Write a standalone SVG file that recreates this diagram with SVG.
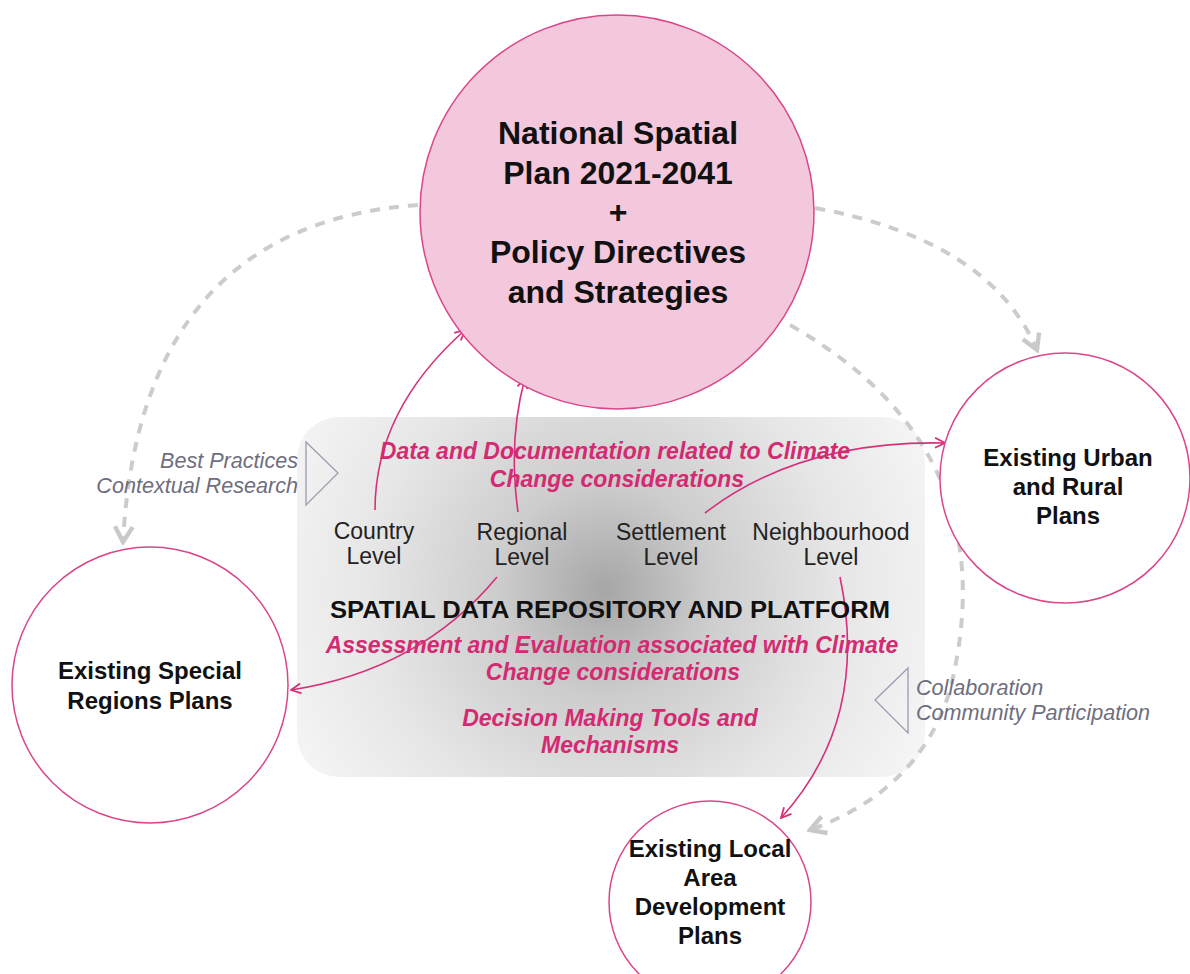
<svg xmlns="http://www.w3.org/2000/svg" width="1190" height="974" viewBox="0 0 1190 974">
<defs>
<radialGradient id="bg" gradientUnits="userSpaceOnUse" cx="605" cy="590" r="360">
<stop offset="0" stop-color="#a6a6a6"/>
<stop offset="0.3" stop-color="#cdcdcd"/>
<stop offset="0.65" stop-color="#e6e6e6"/>
<stop offset="1" stop-color="#f6f6f6"/>
</radialGradient>
<marker id="pa" viewBox="0 0 12 12" refX="11" refY="6" markerWidth="12" markerHeight="12" markerUnits="userSpaceOnUse" orient="auto">
<path d="M1 1 L11 6 L1 11" fill="none" stroke="#d6307a" stroke-width="1.8"/>
</marker>
<marker id="ga" viewBox="0 0 20 20" refX="17" refY="10" markerWidth="22" markerHeight="22" markerUnits="userSpaceOnUse" orient="auto">
<path d="M3 2 L17 10 L3 18" fill="none" stroke="#c9c9c9" stroke-width="4"/>
</marker>
</defs>
<style>
.pk{fill:none;stroke:#d6307a;stroke-width:1.6}
.gd{fill:none;stroke:#cccccc;stroke-width:4;stroke-dasharray:10 9}
.nc{fill:#ffffff;stroke:#d9468a;stroke-width:1.5}
.bt{font-family:"Liberation Sans",Arial,sans-serif;font-weight:bold;fill:#111;text-anchor:middle}
.lv{font-family:"Liberation Sans",Arial,sans-serif;font-size:23px;fill:#222;text-anchor:middle}
.pt{font-family:"Liberation Sans",Arial,sans-serif;font-size:23px;font-weight:bold;font-style:italic;fill:#d42a72;text-anchor:middle}
.it{font-family:"Liberation Sans",Arial,sans-serif;font-size:21.6px;font-style:italic;fill:#6e6e7e}
.tri{fill:none;stroke:#9c9cb0;stroke-width:1.3}
</style>
<g id="platform">
<rect x="297" y="417" width="628" height="360" rx="42" fill="url(#bg)"/>
</g>
<g id="connectors">
<path class="gd" d="M418 205 Q140 225 123 542" marker-end="url(#ga)"/>
<path class="gd" d="M815 208 Q990 240 1037 350" marker-end="url(#ga)"/>
<path class="gd" d="M790 325 Q1010 450 950 690 Q920 790 810 830" marker-end="url(#ga)"/>
<path class="pk" d="M375 510 Q375 410 465 330" marker-end="url(#pa)"/>
<path class="pk" d="M518 512 Q508 440 525 378" marker-end="url(#pa)"/>
<path class="pk" d="M705 513 Q800 440 945 443" marker-end="url(#pa)"/>
<path class="pk" d="M497 577 Q420 670 291 690" marker-end="url(#pa)"/>
<path class="pk" d="M840 577 Q870 720 781 818" marker-end="url(#pa)"/>
</g>
<g id="national">
<circle cx="617" cy="212" r="197" fill="#f3c8dc" stroke="#d9468a" stroke-width="1.5"/>
<text class="bt" font-size="32" x="618" y="144">National Spatial</text>
<text class="bt" font-size="32" x="618" y="184">Plan 2021-2041</text>
<text class="bt" font-size="32" x="618" y="223">+</text>
<text class="bt" font-size="32" x="618" y="263">Policy Directives</text>
<text class="bt" font-size="32" x="618" y="303">and Strategies</text>
</g>
<g id="urban">
<circle class="nc" cx="1065" cy="478" r="125"/>
<text class="bt" font-size="24" x="1068" y="466">Existing Urban</text>
<text class="bt" font-size="24" x="1068" y="495">and Rural</text>
<text class="bt" font-size="24" x="1068" y="524">Plans</text>
</g>
<g id="special">
<circle class="nc" cx="150" cy="685" r="138"/>
<text class="bt" font-size="24" x="150" y="679">Existing Special</text>
<text class="bt" font-size="24" x="150" y="709">Regions Plans</text>
</g>
<g id="local">
<circle class="nc" cx="710" cy="902" r="101"/>
<text class="bt" font-size="24" x="710" y="857">Existing Local</text>
<text class="bt" font-size="24" x="710" y="886">Area</text>
<text class="bt" font-size="24" x="710" y="915">Development</text>
<text class="bt" font-size="24" x="710" y="944">Plans</text>
</g>
<g id="levels">
<text class="lv" x="374" y="539">Country</text>
<text class="lv" x="374" y="564">Level</text>
<text class="lv" x="522" y="540">Regional</text>
<text class="lv" x="522" y="565">Level</text>
<text class="lv" x="671" y="540">Settlement</text>
<text class="lv" x="671" y="565">Level</text>
<text class="lv" x="831" y="540">Neighbourhood</text>
<text class="lv" x="831" y="565">Level</text>
</g>
<g id="platform-text">
<text class="pt" x="615" y="459">Data and Documentation related to Climate</text>
<text class="pt" x="617" y="487">Change considerations</text>
<text class="bt" font-size="23" x="610" y="618" textLength="560" lengthAdjust="spacingAndGlyphs">SPATIAL DATA REPOSITORY AND PLATFORM</text>
<text class="pt" x="612" y="653">Assessment and Evaluation associated with Climate</text>
<text class="pt" x="613" y="680">Change considerations</text>
<text class="pt" x="610" y="726">Decision Making Tools and</text>
<text class="pt" x="610" y="753">Mechanisms</text>
</g>
<g id="best-practices">
<polygon class="tri" points="306,442 338,473 306,505"/>
<text class="it" x="298" y="468" text-anchor="end">Best Practices</text>
<text class="it" x="298" y="493" text-anchor="end">Contextual Research</text>
</g>
<g id="collaboration">
<polygon class="tri" points="908,668 875,700 908,733"/>
<text class="it" x="916" y="695">Collaboration</text>
<text class="it" x="916" y="720">Community Participation</text>
</g>
</svg>
